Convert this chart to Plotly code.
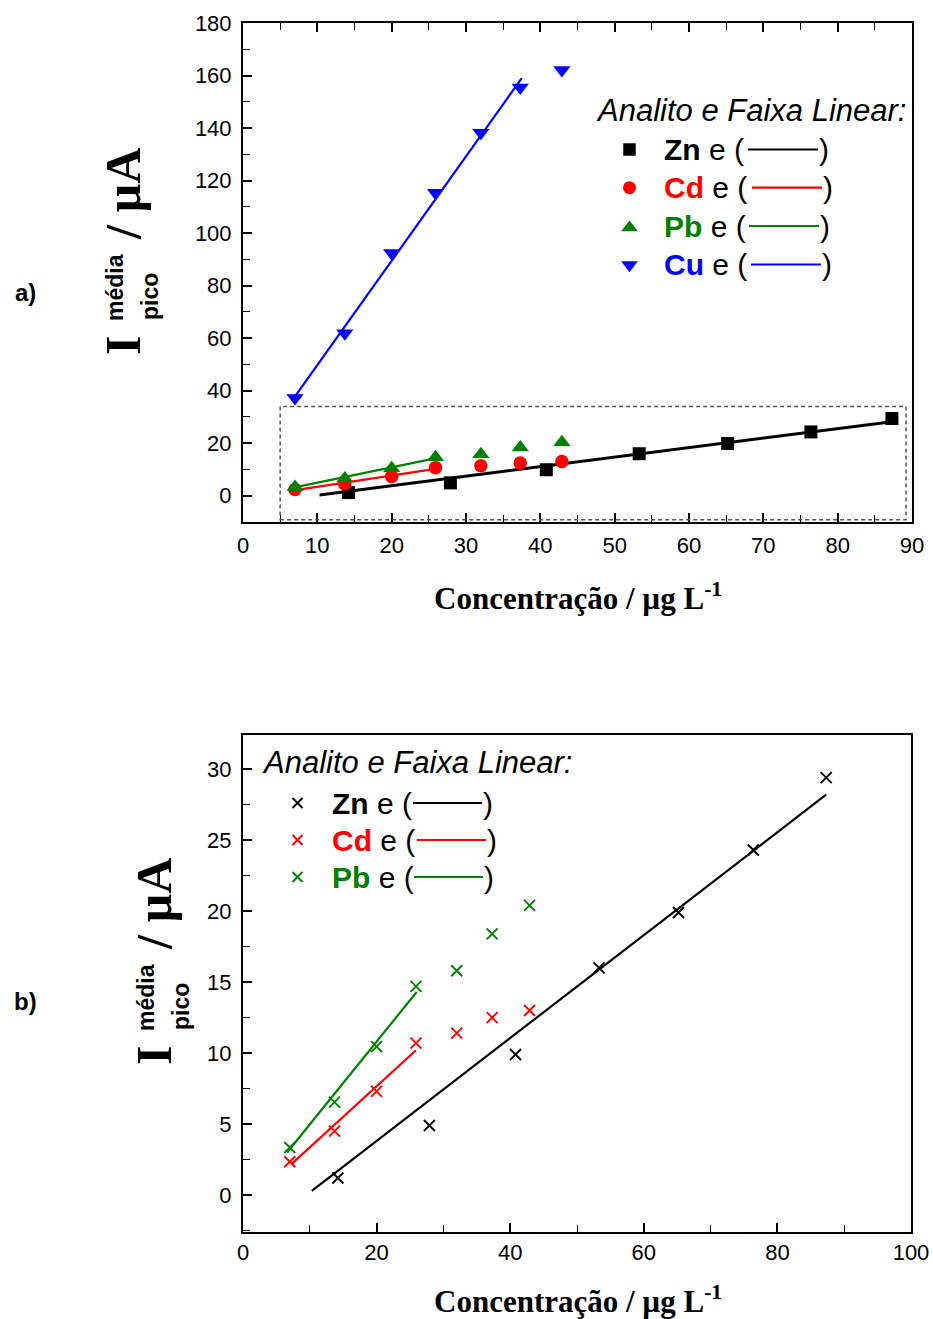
import plotly.graph_objects as go

W, H = 933, 1319

# Concentration levels (µg L-1)
conc_zn = [14.2, 27.9, 40.8, 53.3, 65.2, 76.4, 87.3]
conc_other = [7.0, 13.7, 20.0, 25.9, 32.0, 37.3, 42.9]

# Mean peak currents (µA)
i_zn = [1.2, 4.9, 9.9, 16.0, 19.9, 24.3, 29.4]
i_cd = [2.35, 4.5, 7.3, 10.7, 11.4, 12.5, 13.0]
i_pb = [3.35, 6.55, 10.45, 14.7, 15.8, 18.4, 20.4]
i_cu = [37.2, 61.9, 92.4, 115.4, 138.2, 155.4, 162.1]

# Linear-range fits (end points)
fit_zn_x, fit_zn_y = [10.3, 87.3], [0.3, 28.2]
fit_cd_x, fit_cd_y = [7.3, 25.9], [2.2, 10.2]
fit_pb_x, fit_pb_y = [6.6, 26.0], [3.0, 14.3]
fit_cu_x, fit_cu_y = [7.0, 37.5], [37.8, 159.0]

# Region of panel a) that is expanded in panel b)
zoom_x = [5.0, 89.2]
zoom_y = [-9.1, 34.0]

colors = {"Zn": "#000000", "Cd": "#FF0000", "Pb": "#008000", "Cu": "#0000FF"}

SANS = "Liberation Sans, Arial, sans-serif"
SERIF = "Liberation Serif, Times New Roman, serif"


def px_x(x):
    return x / W


def px_y(y):
    return 1 - y / H


fig = go.Figure()

# ---------- panel a) ----------
series_a = [
    ("Zn", conc_zn, i_zn, fit_zn_x, fit_zn_y, "square", 13),
    ("Cd", conc_other, i_cd, fit_cd_x, fit_cd_y, "circle", 13.5),
    ("Pb", conc_other, i_pb, fit_pb_x, fit_pb_y, "triangle-up", 15),
    ("Cu", conc_other, i_cu, fit_cu_x, fit_cu_y, "triangle-down", 15),
]
for name, xs, ys, fx, fy, sym, size in series_a:
    fig.add_trace(go.Scatter(x=fx, y=fy, mode="lines", xaxis="x", yaxis="y",
                             line=dict(color=colors[name], width=3 if name == "Zn" else 2.2),
                             showlegend=False, hoverinfo="skip"))
    fig.add_trace(go.Scatter(x=xs, y=ys, mode="markers", xaxis="x", yaxis="y",
                             marker=dict(symbol=sym, size=size, color=colors[name],
                                         line=dict(width=0)),
                             showlegend=False, cliponaxis=False))

# ---------- panel b) ----------
series_b = [
    ("Zn", conc_zn, i_zn, fit_zn_x, fit_zn_y),
    ("Cd", conc_other, i_cd, fit_cd_x, fit_cd_y),
    ("Pb", conc_other, i_pb, fit_pb_x, fit_pb_y),
]
for name, xs, ys, fx, fy in series_b:
    fig.add_trace(go.Scatter(x=fx, y=fy, mode="lines", xaxis="x2", yaxis="y2",
                             line=dict(color=colors[name], width=2.2),
                             showlegend=False, hoverinfo="skip"))
    fig.add_trace(go.Scatter(x=xs, y=ys, mode="markers", xaxis="x2", yaxis="y2",
                             marker=dict(symbol="x-thin", size=11,
                                         line=dict(width=1.9, color=colors[name])),
                             showlegend=False))

# ---------- hand-built legends (pixel overlay axes) ----------
annotations = []
shapes = []


def legend_block(title_xy, rows, row_symbols, text_x, line_x, line_len, sym_x, sym_sizes):
    annotations.append(dict(x=title_xy[0], y=title_xy[1], xref="x3", yref="y3",
                            text="<i>Analito e Faixa Linear:</i>", showarrow=False,
                            xanchor="left", yanchor="middle",
                            font=dict(family=SANS, size=31, color="black")))
    for k, (name, ry) in enumerate(rows):
        annotations.append(dict(x=text_x, y=ry, xref="x3", yref="y3",
                                text=f"<b><span style='color:{colors[name]}'>{name}</span></b> e (",
                                showarrow=False, xanchor="left", yanchor="middle",
                                font=dict(family=SANS, size=30, color="black")))
        x0 = line_x[k]
        shapes.append(dict(type="line", xref="x3", yref="y3", x0=x0, x1=x0 + line_len,
                           y0=ry, y1=ry, line=dict(color=colors[name], width=2.2)))
        annotations.append(dict(x=x0 + line_len - 1, y=ry, xref="x3", yref="y3", text=")",
                                showarrow=False, xanchor="left", yanchor="middle",
                                font=dict(family=SANS, size=30, color="black")))
        sym = row_symbols[k]
        if sym == "x-thin":
            mk = dict(symbol=sym, size=sym_sizes[k], line=dict(width=1.9, color=colors[name]))
        else:
            mk = dict(symbol=sym, size=sym_sizes[k], color=colors[name], line=dict(width=0))
        sy = ry
        if sym == "triangle-up":
            sy = ry + 1.7
        elif sym == "triangle-down":
            sy = ry + 0.5
        fig.add_trace(go.Scatter(x=[sym_x], y=[sy], mode="markers", xaxis="x3", yaxis="y3",
                                 marker=mk, showlegend=False, hoverinfo="skip"))


legend_block((594, 110),
             [("Zn", 149.5), ("Cd", 187.7), ("Pb", 226.0), ("Cu", 264.5)],
             ["square", "circle", "triangle-up", "triangle-down"],
             662, [748, 752, 749, 751], 70, 629.5, [12.5, 13, 14.5, 14.5])

legend_block((260, 762),
             [("Zn", 803), ("Cd", 840), ("Pb", 877)],
             ["x-thin", "x-thin", "x-thin"],
             330, [413, 417, 414], 69, 297.5, [10, 10, 10])

# zoom-region box on panel a)
shapes.append(dict(type="rect", xref="x", yref="y", x0=zoom_x[0], x1=zoom_x[1],
                   y0=zoom_y[0], y1=zoom_y[1],
                   line=dict(color="#555555", width=1.5, dash="4px,3px"), layer="above"))

# ---------- axis titles ----------
for dx, dy in [(0, 0), (31, 710)]:
    annotations.append(dict(x=123 + dx, y=346 + dy, xref="x3", yref="y3", text="<b>I</b>",
                            textangle=-90, showarrow=False,
                            font=dict(family=SERIF, size=50, color="black")))
    annotations.append(dict(x=114.5 + dx, y=287.5 + dy, xref="x3", yref="y3", text="<b>média</b>",
                            textangle=-90, showarrow=False,
                            font=dict(family=SANS, size=23, color="black")))
    annotations.append(dict(x=150 + dx, y=297 + dy, xref="x3", yref="y3", text="<b>pico</b>",
                            textangle=-90, showarrow=False,
                            font=dict(family=SANS, size=23, color="black")))
    annotations.append(dict(x=123 + dx, y=194 + dy, xref="x3", yref="y3", text="<b>/ µA</b>",
                            textangle=-90, showarrow=False,
                            font=dict(family=SERIF, size=50, color="black")))

for ty in [596, 1299]:
    annotations.append(dict(x=578, y=ty, xref="x3", yref="y3",
                            text="<b>Concentração / µg L<sup>-1</sup></b>", showarrow=False,
                            font=dict(family=SERIF, size=31, color="black")))

annotations.append(dict(x=25, y=292, xref="x3", yref="y3", text="<b>a)</b>", showarrow=False,
                        font=dict(family=SANS, size=24, color="black")))
annotations.append(dict(x=25, y=1001, xref="x3", yref="y3", text="<b>b)</b>", showarrow=False,
                        font=dict(family=SANS, size=24, color="black")))

# ---------- axes ----------
tickfont = dict(family=SANS, size=22, color="black")
common = dict(showgrid=False, zeroline=False, showline=True, linecolor="black", linewidth=2,
              ticks="inside", ticklen=9, tickwidth=1.6, tickcolor="black", tickfont=tickfont,
              automargin=False)
minor_style = dict(ticks="inside", ticklen=7, tickwidth=1.4, tickcolor="black")

fig.update_layout(
    template="none",
    width=W, height=H, autosize=False,
    margin=dict(l=0, r=0, t=0, b=0, pad=0),
    paper_bgcolor="white", plot_bgcolor="rgba(0,0,0,0)",
    showlegend=False,
    xaxis=dict(domain=[px_x(243), px_x(912)], anchor="y", range=[0, 90], dtick=10, tick0=0,
               mirror="ticks", ticklabelstandoff=3, minor=dict(dtick=5, **minor_style),
               **common),
    yaxis=dict(domain=[px_y(522), px_y(23)], anchor="x", range=[-10, 180], dtick=20, tick0=0,
               mirror=True, ticklabelstandoff=5, minor=dict(dtick=10, **minor_style),
               **common),
    xaxis2=dict(domain=[px_x(243), px_x(911)], anchor="y2", range=[0, 100], dtick=20, tick0=0,
                mirror=True, ticklabelstandoff=0, minor=dict(dtick=10, **minor_style),
                **common),
    yaxis2=dict(domain=[px_y(1232), px_y(735)], anchor="x2", range=[-2.6, 32.4], dtick=5, tick0=0,
                mirror=True, ticklabelstandoff=5, minor=dict(dtick=2.5, **minor_style),
                **common),
    xaxis3=dict(domain=[0, 1], anchor="y3", range=[0, W], visible=False, fixedrange=True,
                automargin=False, showgrid=False, zeroline=False),
    yaxis3=dict(domain=[0, 1], anchor="x3", range=[H, 0], visible=False, fixedrange=True,
                automargin=False, showgrid=False, zeroline=False),
    annotations=annotations,
    shapes=shapes,
)

fig.write_html("out.html")
